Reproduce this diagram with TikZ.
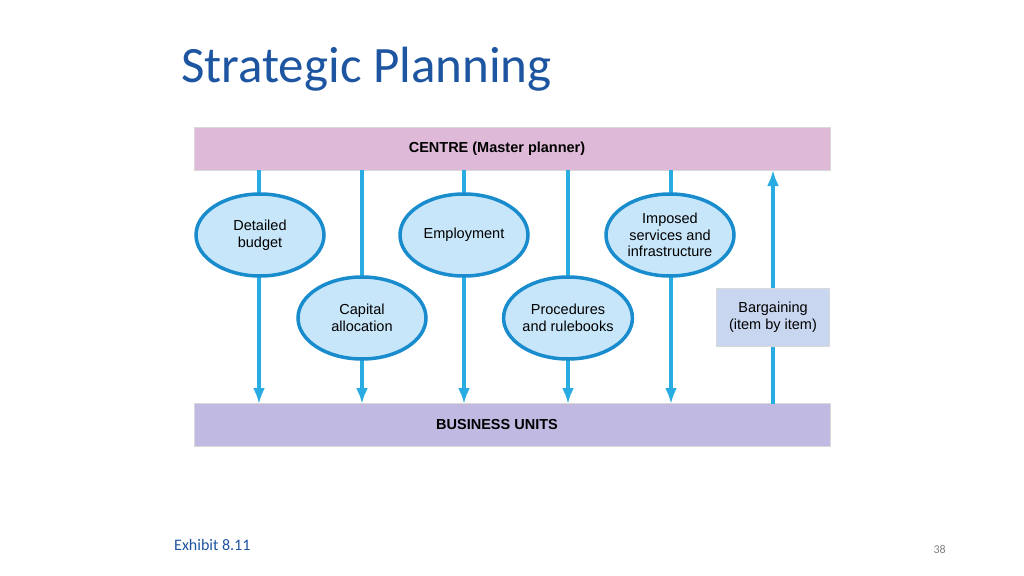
\documentclass[tikz,border=0pt]{standalone}
\usepackage{fontspec}
\setmainfont{Carlito}
\newfontfamily\arialf{Liberation Sans}
\definecolor{ttl}{RGB}{30,85,160}
\definecolor{pinkbar}{RGB}{222,186,216}
\definecolor{lavbar}{RGB}{192,186,226}
\definecolor{arr}{RGB}{40,172,226}
\definecolor{ellf}{RGB}{200,230,250}
\definecolor{elld}{RGB}{25,140,205}
\definecolor{barg}{RGB}{200,214,240}
\begin{document}
\begin{tikzpicture}[x=1pt,y=-1pt,
 bar/.style={draw=white!70!gray,line width=1pt,minimum width=636pt,minimum height=43pt,inner sep=0pt,font=\arialf\bfseries\fontsize{14.5}{17}\selectfont},
 ell/.style={ellipse,draw=elld,line width=3.5pt,fill=ellf,minimum width=128pt,minimum height=82pt,inner sep=0pt,align=center,font=\arialf\fontsize{14.5}{16.5}\selectfont},
 ar/.style={draw=arr,line width=3.3pt,-{Latex[length=16pt,width=12pt]}}]
\usetikzlibrary{shapes.geometric,arrows.meta}
\useasboundingbox (0,0) rectangle (1024,575);
\node[anchor=base west,text=ttl,font=\fontsize{51}{58}\selectfont,inner sep=0pt] (title) at (181,83) {Strategic Planning};
\node[bar,fill=pinkbar] (centre) at (512,149) {\hspace*{-30pt}CENTRE (Master planner)};
\node[bar,fill=lavbar] (bu) at (512,425) {\hspace*{-30pt}BUSINESS UNITS};
\foreach \x/\n in {259/a,362/b,464/c,568/d,671/e,773/f}{
 \coordinate (t\n) at (\x,170); \coordinate (b\n) at (\x,404);}
\draw[ar] (ta) -- (ba);
\draw[ar] (tb) -- (bb);
\draw[ar] (tc) -- (bc);
\draw[ar] (td) -- (bd);
\draw[ar] (te) -- (be);
\draw[ar] (bf) -- (tf);
\node[ell] (db) at (260,235) {Detailed\\budget};
\node[ell] (ca) at (362,318) {Capital\\allocation};
\node[ell] (em) at (464,235) {Employment};
\node[ell] (pr) at (568,318) {Procedures\\and rulebooks};
\node[ell] (im) at (670,235) {Imposed\\services and\\infrastructure};
\node[draw=white!70!gray,fill=barg,minimum width=113pt,minimum height=58pt,align=center,inner sep=0pt,font=\arialf\fontsize{14.5}{16.5}\selectfont] (bg) at (773,317) {Bargaining\\(item by item)};
\node[anchor=base west,text=ttl,font=\fontsize{16}{19}\selectfont,inner sep=0pt] (ex) at (174,550) {Exhibit 8.11};
\node[anchor=base east,text=gray,font=\fontsize{12}{14}\selectfont,inner sep=0pt] (pg) at (946,553) {38};
\end{tikzpicture}
\end{document}
